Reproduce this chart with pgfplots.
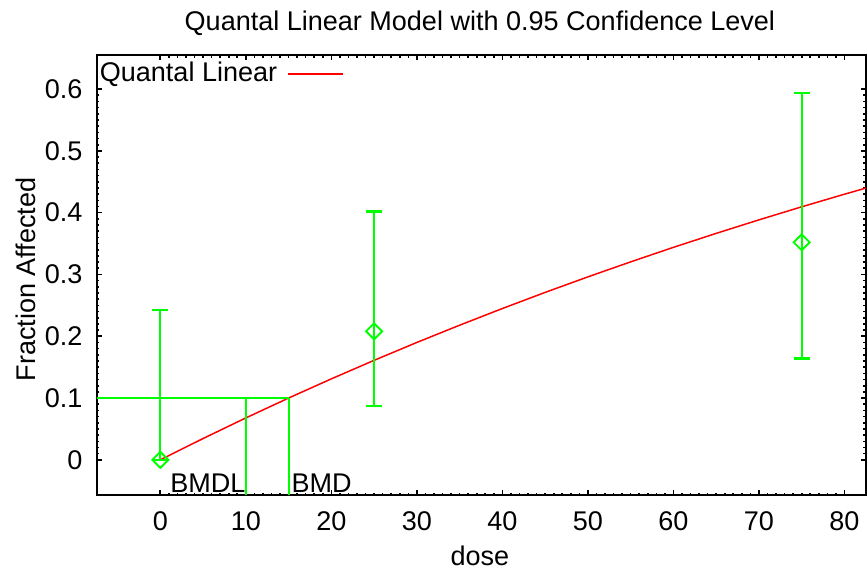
\documentclass[border=0pt]{standalone}
\usepackage{fontspec}
\setmainfont{Liberation Sans}
\usepackage{pgfplots}
\usepackage{pgfplotstable}
\pgfplotsset{compat=1.18}

% dose-response data: dose, fraction, lower, upper
\pgfplotstableread{
dose frac lo hi
0    0.000 0.000 0.243
25   0.208 0.087 0.402
75   0.352 0.164 0.594
}\obsdata

\begin{document}
\begin{tikzpicture}
\begin{axis}[
    at={(0,0)}, anchor=south west,
    scale only axis,
    width=284.5pt, height=162.8pt,
    xmin=-7.4, xmax=82.5, ymin=-0.057, ymax=0.655,
    xtick={0,10,...,80},
    ytick={0,0.1,...,0.6},
    minor x tick num=9, minor y tick num=9,
    tick align=inside,
    major tick length=1.7pt, minor tick length=0.9pt,
    every tick/.style={black, line width=0.6pt},
    axis line style={black, line width=0.8pt},
    font=\fontsize{10}{12}\selectfont,
    tick label style={font=\fontsize{10}{12}\selectfont},
    /pgf/number format/assume math mode=true,
    yticklabel style={/pgf/number format/fixed, /pgf/number format/precision=1, inner sep=0pt, xshift=-5.2pt},
    xticklabel style={inner sep=0pt, yshift=-6pt},
    title={Quantal Linear Model with 0.95 Confidence Level},
    every axis title shift=0pt,
    title style={at={(axis description cs:0.498,1.073)}, anchor=center, inner sep=0pt, yshift=0pt},
    xlabel={dose},
    xlabel style={at={(axis description cs:0.498,-0.139)}, anchor=center, inner sep=0pt},
    ylabel={Fraction Affected},
    ylabel style={at={(axis description cs:-0.0925,0.49)}, anchor=center, inner sep=0pt},
    legend plot pos=right,
    legend style={draw=none, fill=none, at={(axis description cs:-0.004,0.997)}, anchor=north west,
        inner sep=0pt, font=\fontsize{10}{12}\selectfont,
        /tikz/every even column/.append style={column sep=0pt}},
    legend cell align=left,
    legend image code/.code={\path (0,0); \draw[#1] (1.6pt,0) -- (22pt,0);},
]
% fitted quantal linear curve
\addplot[red, line width=0.55pt] coordinates {
(0,0) (5,0.03451) (10,0.06783) (15,0.1) (20,0.13106) (25,0.16105)
(30,0.19) (35,0.21791) (40,0.24492) (45,0.271) (50,0.29612)
(55,0.32041) (60,0.3439) (65,0.36652) (70,0.38838) (75,0.40951)
(80,0.4299) (82.5,0.43982)};
\addlegendentry{Quantal Linear}

% BMD / BMDL guide lines
\addplot[green, line width=0.8pt, forget plot] coordinates {(-7.4,0.1) (15,0.1)};
\addplot[green, line width=0.8pt, forget plot] coordinates {(10.05,0.1) (10.05,-0.057)};
\addplot[green, line width=0.8pt, forget plot] coordinates {(15,0.1) (15,-0.057)};

% observed data with confidence intervals
\addplot[green, line width=0.8pt, only marks, mark=square, mark size=2.1pt,
    mark options={rotate=45, solid, line width=0.7pt}, forget plot,
    error bars/.cd, y dir=both, y explicit,
    error bar style={line width=0.8pt, green},
    error mark options={rotate=90, mark size=3pt, line width=0.8pt, green}]
    table[x=dose, y=frac, y error plus expr=\thisrow{hi}-\thisrow{frac},
          y error minus expr=\thisrow{frac}-\thisrow{lo}] {\obsdata};

\node[anchor=south west, inner sep=0pt] at (axis cs:1.1,-0.054) {BMDL};
\node[anchor=south west, inner sep=0pt] at (axis cs:15.3,-0.054) {BMD};
\end{axis}
\pgfresetboundingbox
\path[use as bounding box] (-35.9pt,-28.1pt) rectangle (285.3pt,183.2pt);
\end{tikzpicture}
\end{document}
